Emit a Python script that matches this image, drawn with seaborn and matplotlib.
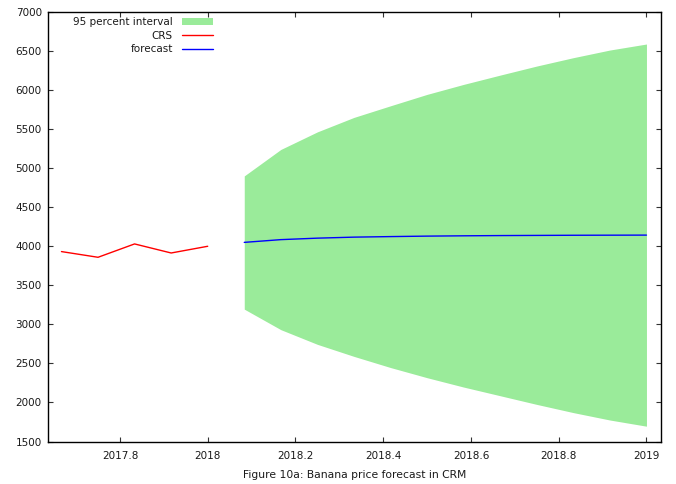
import matplotlib
matplotlib.use("Agg")
import matplotlib.pyplot as plt
import seaborn as sns
import pandas as pd

# Observed monthly prices (decimal years)
crs_time = [2017.6667, 2017.75, 2017.8333, 2017.9167, 2018.0]
crs_price = [3932, 3859, 4030, 3914, 4000]

# Forecast horizon with 95 percent interval
fc_time = [2018.0833, 2018.1667, 2018.25, 2018.3333, 2018.4167, 2018.5,
           2018.5833, 2018.6667, 2018.75, 2018.8333, 2018.9167, 2019.0]
fc_mean = [4050, 4085, 4104, 4117, 4124, 4130, 4134, 4137, 4139, 4141, 4142, 4143]
fc_upper = [4901, 5240, 5465, 5650, 5799, 5945, 6073, 6192, 6308, 6415, 6513, 6590]
fc_lower = [3195, 2932, 2744, 2590, 2447, 2317, 2197, 2086, 1975, 1870, 1775, 1696]

y_ticks = [1500, 2000, 2500, 3000, 3500, 4000, 4500, 5000, 5500, 6000, 6500, 7000]
x_ticks = [2017.8, 2018.0, 2018.2, 2018.4, 2018.6, 2018.8, 2019.0]
x_ticklabels = ["2017.8", "2018", "2018.2", "2018.4", "2018.6", "2018.8", "2019"]

sns.set_theme(style="white")
plt.rcParams["font.family"] = ["DejaVu Sans"]

crs_df = pd.DataFrame({"time": crs_time, "price": crs_price})
fc_df = pd.DataFrame({"time": fc_time, "price": fc_mean})

fig = plt.figure(figsize=(6.76, 4.84), dpi=100)
ax = fig.add_axes([48 / 676, 1 - 441.5 / 484, 612.5 / 676, 429.5 / 484])

ax.fill_between(fc_time, fc_lower, fc_upper, color="#9aeb9a", linewidth=0,
                label="95 percent interval")
sns.lineplot(data=crs_df, x="time", y="price", ax=ax, color="#ff0000",
             linewidth=1.0, label="CRS")
sns.lineplot(data=fc_df, x="time", y="price", ax=ax, color="#0000ff",
             linewidth=1.0, label="forecast")

ax.set_xlim(2017.636, 2019.032)
ax.set_ylim(1500, 7000)
ax.set_yticks(y_ticks)
ax.set_yticklabels([str(v) for v in y_ticks])
ax.set_xticks(x_ticks)
ax.set_xticklabels(x_ticklabels)

ax.tick_params(axis="both", which="major", direction="in", length=3.5, width=0.8,
               color="#333333", labelsize=7.5, labelcolor="#1a1a1a",
               top=True, right=True, bottom=True, left=True, pad=4.5)
ax.tick_params(axis="x", pad=7)
for side in ax.spines.values():
    side.set_visible(True)
    side.set_color("black")
    side.set_linewidth(1.0)

ax.set_xlabel("Figure 10a: Banana price forecast in CRM", fontsize=7.75,
              color="#1a1a1a", labelpad=6)
ax.set_ylabel("")

leg = ax.legend(loc="upper right", bbox_to_anchor=(213 / 676, 1 - 17 / 484),
                bbox_transform=fig.transFigure, frameon=False, markerfirst=False,
                fontsize=7.5, handlelength=3.0, handleheight=0.7,
                handletextpad=0.85, labelspacing=0.36, borderpad=0, borderaxespad=0)
for t in leg.get_texts():
    t.set_color("#1a1a1a")

fig.savefig("out.png", dpi=100)
